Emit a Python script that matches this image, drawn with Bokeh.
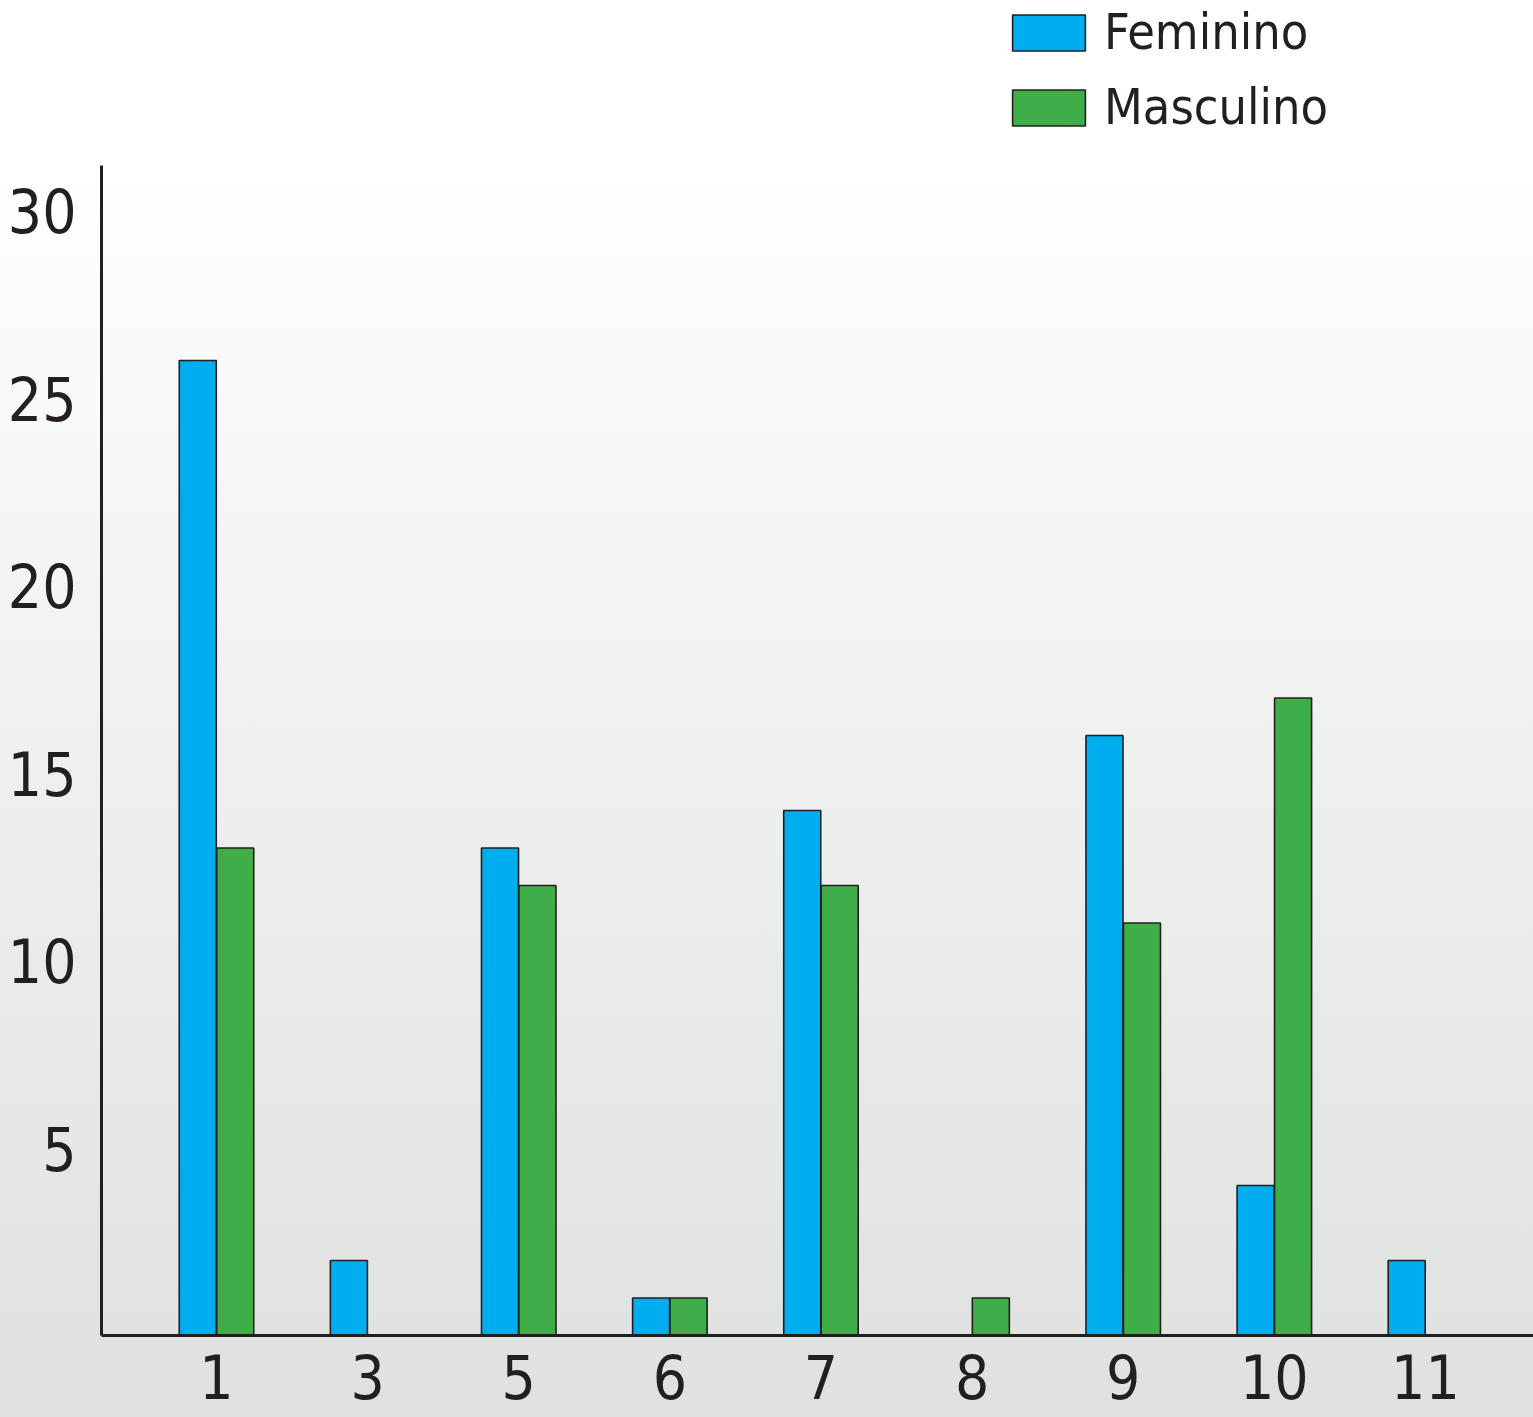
from bokeh.plotting import figure
from bokeh.models import ColumnDataSource, Range1d, FixedTicker, Legend, LegendItem
from bokeh.embed import file_html
from bokeh.resources import INLINE

categories = ["1", "3", "5", "6", "7", "8", "9", "10", "11"]
feminino = [26, 2, 13, 1, 14, 0, 16, 4, 2]
masculino = [13, 0, 12, 1, 12, 1, 11, 17, 0]
y_ticks = [5, 10, 15, 20, 25, 30]

FONT = "DejaVu Sans Condensed"
BLUE = "#00aeef"
GREEN = "#3fae49"
INK = "#231f20"

idx = list(range(len(categories)))
src = ColumnDataSource(dict(
    xf=[i - 0.124 for i in idx], xm=[i + 0.124 for i in idx],
    fem=feminino, mas=masculino))

p = figure(width=1533, height=1417,
           min_border_left=101, min_border_top=0, min_border_right=0, min_border_bottom=82,
           x_range=Range1d(-0.761, 8.715), y_range=Range1d(0, 35.6),
           output_backend="svg", toolbar_location=None)

p.styles = {"background": "linear-gradient(to bottom, #ffffff 0px, #ffffff 170px, #f6f7f7 450px, #dfe0e0 100%)"}
p.border_fill_alpha = 0
p.background_fill_alpha = 0
p.outline_line_color = None
p.xgrid.visible = False
p.ygrid.visible = False

rf = p.vbar(x="xf", top="fem", width=0.245, source=src, fill_color=BLUE,
            line_color=INK, line_width=1.6)
rm = p.vbar(x="xm", top="mas", width=0.245, source=src, fill_color=GREEN,
            line_color=INK, line_width=1.6)

for ax in (p.xaxis[0], p.yaxis[0]):
    ax.axis_line_color = INK
    ax.axis_line_width = 3
    ax.major_tick_line_color = None
    ax.minor_tick_line_color = None
    ax.major_label_text_font = FONT
    ax.major_label_text_font_size = "60px"
    ax.major_label_text_color = INK

p.xaxis.ticker = FixedTicker(ticks=idx)
p.xaxis.major_label_overrides = {i: c for i, c in zip(idx, categories)}
p.xaxis.major_label_standoff = 12
p.yaxis.ticker = FixedTicker(ticks=y_ticks)
p.yaxis.major_label_standoff = 19
p.yaxis.bounds = (0, 31.2)

legend = Legend(items=[LegendItem(label="Feminino", renderers=[rf]),
                       LegendItem(label="Masculino", renderers=[rm])],
                location=(902, 1199), padding=0, margin=0, spacing=17,
                glyph_width=91, glyph_height=45, label_height=45, label_standoff=10,
                label_text_font=FONT, label_text_font_size="50px", label_text_color=INK,
                background_fill_alpha=0, border_line_alpha=0)
p.add_layout(legend)

open("out.html", "w").write(file_html(p, INLINE))
